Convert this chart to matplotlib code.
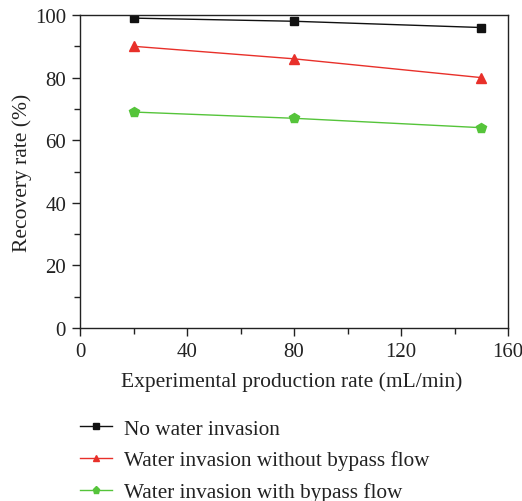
import matplotlib
matplotlib.use("Agg")
import matplotlib.pyplot as plt
from matplotlib.ticker import MultipleLocator

plt.rcParams['font.family'] = ['Liberation Serif', 'DejaVu Serif']

x = [20, 80, 150]
no_water = [99, 98, 96]
without_bypass = [90, 86, 80]
with_bypass = [69, 67, 64]
labels = ["No water invasion", "Water invasion without bypass flow", "Water invasion with bypass flow"]

fig = plt.figure(figsize=(5.22, 5.02), dpi=100)
ax = fig.add_axes([80/522, 1-329/502, (508-80)/522, (329-16)/502])

ax.plot(x, no_water, color='#111111', marker='s', markersize=6, lw=1, label=labels[0])
ax.plot(x, without_bypass, color='#e8302a', marker='^', markersize=7, lw=1, label=labels[1])
ax.plot(x, with_bypass, color='#55c43a', marker='p', markersize=7.5, lw=1, label=labels[2])

ax.set_xlim(0, 160)
ax.set_ylim(0, 100)
ax.xaxis.set_major_locator(MultipleLocator(40))
ax.xaxis.set_minor_locator(MultipleLocator(20))
ax.yaxis.set_major_locator(MultipleLocator(20))
ax.yaxis.set_minor_locator(MultipleLocator(10))
ax.tick_params(which='both', direction='out', top=False, right=False, labelsize=15, width=1, colors='#222222')
ax.tick_params(which='major', length=6, pad=4)
ax.tick_params(which='minor', length=4)
for s in ax.spines.values():
    s.set_linewidth(1)
    s.set_color('#222222')
ax.set_xlabel("Experimental production rate (mL/min)", fontsize=15.5, va='center', color='#222222')
ax.set_ylabel("Recovery rate (%)", fontsize=15.5, va='center', color='#222222')
ax.xaxis.set_label_coords((292-80)/428, (329-382)/313)
ax.yaxis.set_label_coords((22-80)/428, (329-173)/313)

leg = ax.legend(loc='upper left', bbox_to_anchor=(80/522, 1-420/502), bbox_transform=fig.transFigure,
          frameon=False, fontsize=15.3, markerscale=0.7, handlelength=1.5, labelspacing=0.55,
          handletextpad=0.55, borderaxespad=0, borderpad=0)
for t in leg.get_texts():
    t.set_color('#222222')

fig.savefig("out.png", dpi=100)
